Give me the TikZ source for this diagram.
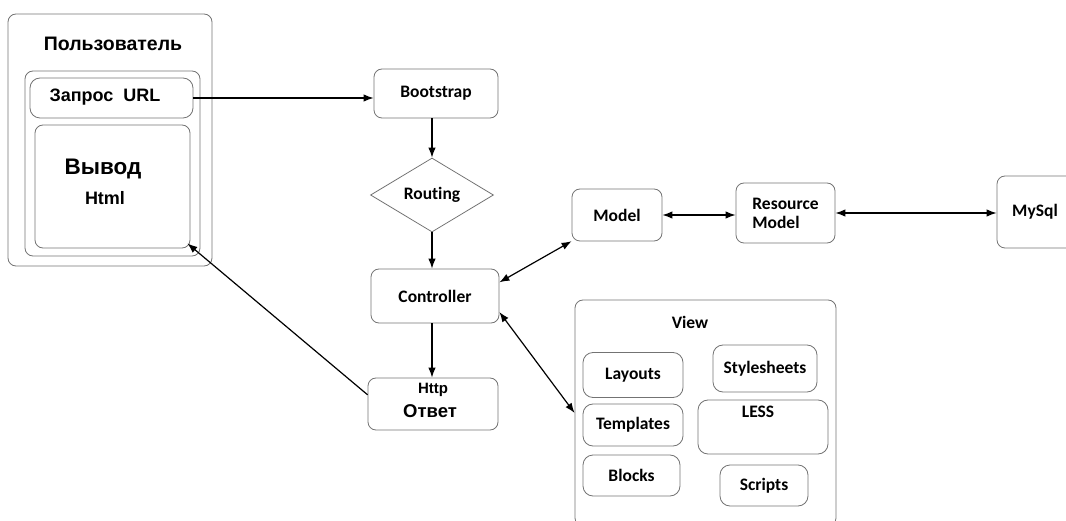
\documentclass[tikz,border=0pt]{standalone}
\usepackage{fontspec}
\setmainfont{Carlito}[Ligatures=NoCommon]
\newfontfamily\arialfont{Liberation Sans}
\usetikzlibrary{positioning}
\usetikzlibrary{arrows.meta,shapes.geometric}

\begin{document}
\begin{tikzpicture}[x=1pt, y=-1pt,
  frame/.style={draw=black!55, line width=0.8pt, rounded corners=8pt, inner sep=0pt},
  lbl/.style={font=\fontsize{17.5}{19}\selectfont\bfseries, inner sep=0pt},
  rlbl/.style={font=\arialfont\bfseries, inner sep=0pt},
  flow/.style={draw, line width=1.2pt, -{Latex[length=10pt,width=7.5pt]}},
  both/.style={flow, {Latex[length=10pt,width=7.5pt]}-{Latex[length=10pt,width=7.5pt]}}]

\useasboundingbox (0,0) rectangle (1066,521);
\clip (0,0) rectangle (1066,521);

% user side
\node[frame, minimum width=204pt, minimum height=252pt] (user) at (110,140) {};
\node[rlbl, font=\arialfont\bfseries\fontsize{19.5}{21}\selectfont] (usertitle) at (113,44) {Пользователь};
\node[frame, minimum width=175pt, minimum height=185pt] (inner) at (112.5,163.5) {};
\node[frame, rounded corners=10pt, minimum width=163pt, minimum height=40pt] (zapros) at (111.5,98) {};
\node[rlbl, font=\arialfont\bfseries\fontsize{18}{20}\selectfont] (zaprostxt) at (105,97) {Запрос\ \ URL};
\node[frame, minimum width=155pt, minimum height=123pt] (vyvod) at (112.5,186.5) {};
\node[rlbl, font=\arialfont\bfseries\fontsize{22.5}{25}\selectfont] (vyvodtxt) at (103,169) {Вывод};
\node[rlbl, font=\arialfont\bfseries\fontsize{18}{20}\selectfont] (htmltxt) at (105,198) {Html};

% main flow
\node[frame, lbl, minimum width=124pt, minimum height=49pt] (boot) at (436,93.5) {Bootstrap};
\node[draw=black!55, line width=0.8pt, diamond, aspect=1.66, lbl, minimum width=123pt, minimum height=74pt] (route) at (432,195) {Routing};
\node[frame, lbl, minimum width=128pt, minimum height=54pt] (ctrl) at (435,296) {Controller};
\node[frame, minimum width=130pt, minimum height=52pt] (http) at (433,404) {};
\node[rlbl, font=\arialfont\bfseries\fontsize{15}{17}\selectfont] (httptxt) at (433,390) {Http};
\node[rlbl, font=\arialfont\bfseries\fontsize{18.5}{20}\selectfont] (otvettxt) at (430,411) {Ответ};

% model side
\node[frame, lbl, minimum width=90pt, minimum height=52pt] (model) at (617,215) {Model};
\node[frame, lbl, align=left, minimum width=99pt, minimum height=60pt] (res) at (785.5,213) {Resource\\Model};
\node[frame, lbl, minimum width=86pt, minimum height=72pt] (mysql) at (1040,212) {\hspace*{-10pt}MySql};

% view
\node[frame, minimum width=261pt, minimum height=226pt] (view) at (705.5,413) {};
\node[lbl] (viewtxt) at (690,322) {View};
\node[frame, rounded corners=10pt, lbl, minimum width=100pt, minimum height=45pt] (layouts) at (633,375) {Layouts};
\node[frame, rounded corners=10pt, lbl, minimum width=100pt, minimum height=42pt] (templ) at (633,425) {Templates};
\node[frame, rounded corners=10pt, lbl, minimum width=97pt, minimum height=41pt] (blocks) at (631.5,475.5) {Blocks};
\node[frame, rounded corners=10pt, lbl, minimum width=104pt, minimum height=47pt] (styles) at (765,368.5) {Stylesheets};
\node[frame, rounded corners=10pt, minimum width=130pt, minimum height=54pt] (less) at (763,427) {};
\node[lbl] (lesstxt) at (758,412) {LESS};
\node[frame, rounded corners=10pt, lbl, minimum width=88pt, minimum height=41pt] (scripts) at (764,485.5) {Scripts};

% connectors
\draw[flow] (zapros.east) -- (zapros.east -| boot.west);
\draw[flow] (route.north |- boot.south) -- (route.north);
\draw[flow] (route.south) -- (route.south |- ctrl.north);
\draw[flow] (route.south |- ctrl.south) -- (route.south |- http.north);
\draw[flow] (http.172) -- ([xshift=-3pt,yshift=5pt]vyvod.south east);
\draw[both] (ctrl.12) -- (model.210);
\draw[both] (ctrl.-14) -- (view.west);
\draw[both] (model.east) -- (model.east -| res.west);
\draw[both] (res.east) -- (res.east -| mysql.west);

\end{tikzpicture}
\end{document}
